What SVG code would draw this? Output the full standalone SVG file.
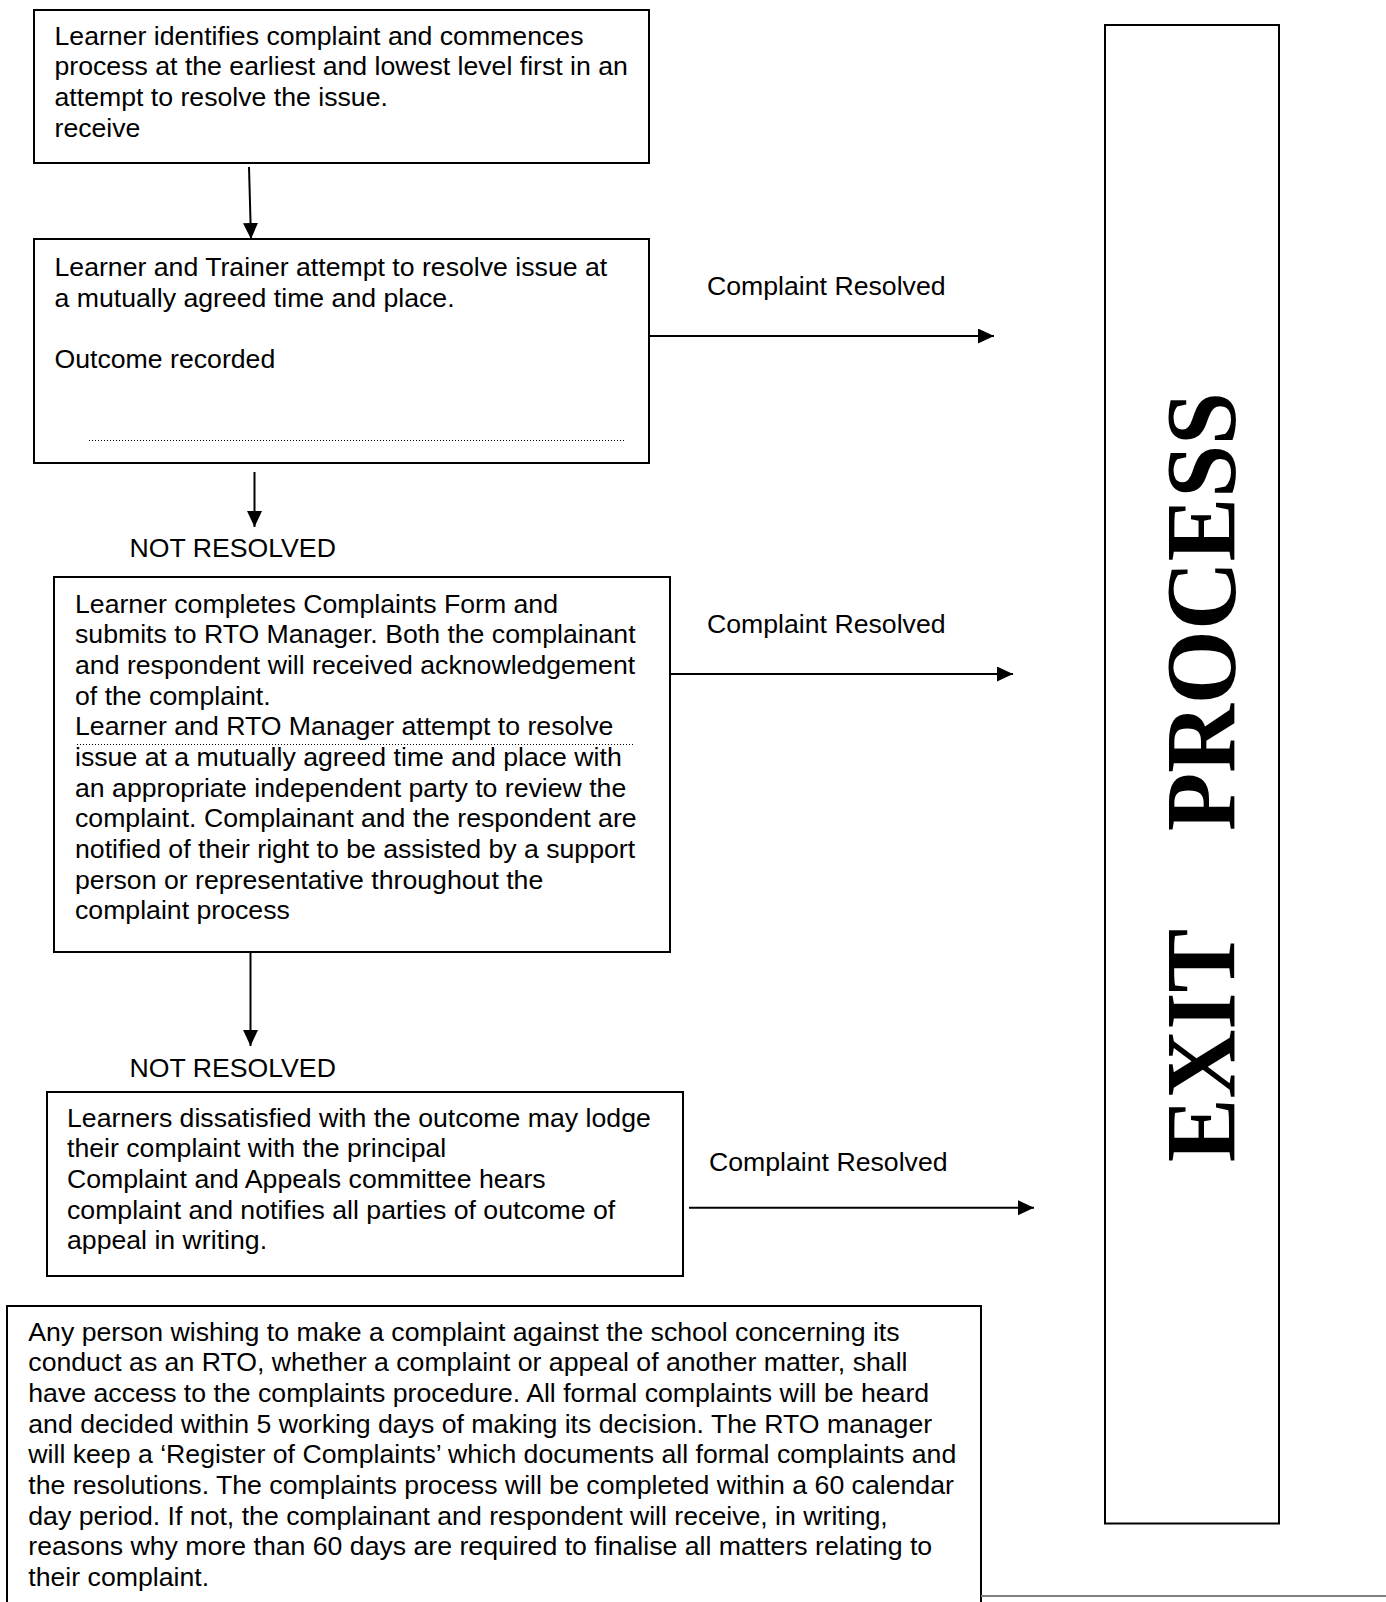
<svg xmlns="http://www.w3.org/2000/svg" width="1386" height="1602" viewBox="0 0 1386 1602">
<defs>
<style>
.box{fill:#fff;stroke:#000;stroke-width:2}
.t{font-family:"Liberation Sans",Arial,sans-serif;font-size:26.67px;fill:#000}
.c{stroke:#000;stroke-width:2;fill:none}
.dot{stroke:#000;stroke-width:1;stroke-dasharray:1 2;fill:none}
.exit{font-family:"Liberation Serif","Times New Roman",serif;font-weight:bold;font-size:99px;fill:#000}
</style>
<marker id="ah" markerUnits="userSpaceOnUse" markerWidth="16" markerHeight="16" refX="16" refY="7.5" orient="auto">
<path d="M0,0 L16,7.5 L0,15 z" fill="#000"/>
</marker>
</defs>
<rect width="1386" height="1602" fill="#fff"/>

<g id="n1">
<rect class="box" x="34" y="10" width="615" height="153"/>
<text class="t" x="54.5" y="44.5">Learner identifies complaint and commences</text>
<text class="t" x="54.5" y="75.2">process at the earliest and lowest level first in an</text>
<text class="t" x="54.5" y="105.9">attempt to resolve the issue.</text>
<text class="t" x="54.5" y="136.6">receive</text>
</g>

<g id="n2">
<rect class="box" x="34" y="239" width="615" height="224"/>
<text class="t" x="54.5" y="276">Learner and Trainer attempt to resolve issue at</text>
<text class="t" x="54.5" y="306.7">a mutually agreed time and place.</text>
<text class="t" x="54.5" y="368">Outcome recorded</text>
<line class="dot" x1="89" y1="440.5" x2="625" y2="440.5"/>
</g>

<g id="n3">
<rect class="box" x="54" y="577" width="616" height="375"/>
<text class="t" x="75" y="612.7">Learner completes Complaints Form and</text>
<text class="t" x="75" y="643.3">submits to RTO Manager. Both the complainant</text>
<text class="t" x="75" y="674">and respondent will received acknowledgement</text>
<text class="t" x="75" y="704.7">of the complaint.</text>
<text class="t" x="75" y="735.3">Learner and RTO Manager attempt to resolve</text>
<text class="t" x="75" y="766">issue at a mutually agreed time and place with</text>
<text class="t" x="75" y="796.7">an appropriate independent party to review the</text>
<text class="t" x="75" y="827.3">complaint. Complainant and the respondent are</text>
<text class="t" x="75" y="858">notified of their right to be assisted by a support</text>
<text class="t" x="75" y="888.7">person or representative throughout the</text>
<text class="t" x="75" y="919.3">complaint process</text>
<line class="dot" x1="77" y1="744.5" x2="635" y2="744.5"/>
</g>

<g id="n4">
<rect class="box" x="47" y="1092" width="636" height="184"/>
<text class="t" x="67" y="1126.7">Learners dissatisfied with the outcome may lodge</text>
<text class="t" x="67" y="1157.3">their complaint with the principal</text>
<text class="t" x="67" y="1188">Complaint and Appeals committee hears</text>
<text class="t" x="67" y="1218.7">complaint and notifies all parties of outcome of</text>
<text class="t" x="67" y="1249.3">appeal in writing.</text>
</g>

<g id="n5">
<rect class="box" x="7" y="1306" width="974" height="320"/>
<text class="t" x="28.3" y="1340.7">Any person wishing to make a complaint against the school concerning its</text>
<text class="t" x="28.3" y="1371.3">conduct as an RTO, whether a complaint or appeal of another matter, shall</text>
<text class="t" x="28.3" y="1402">have access to the complaints procedure. All formal complaints will be heard</text>
<text class="t" x="28.3" y="1432.7">and decided within 5 working days of making its decision. The RTO manager</text>
<text class="t" x="28.3" y="1463.3">will keep a ‘Register of Complaints’ which documents all formal complaints and</text>
<text class="t" x="28.3" y="1494">the resolutions. The complaints process will be completed within a 60 calendar</text>
<text class="t" x="28.3" y="1524.7">day period. If not, the complainant and respondent will receive, in writing,</text>
<text class="t" x="28.3" y="1555.3">reasons why more than 60 days are required to finalise all matters relating to</text>
<text class="t" x="28.3" y="1586">their complaint.</text>
</g>

<g id="exit">
<rect class="box" x="1105" y="25" width="174" height="1498.5"/>
<text class="exit" transform="rotate(-90)" x="-1162" y="1233.5" textLength="233" lengthAdjust="spacingAndGlyphs">EXIT</text>
<text class="exit" transform="rotate(-90)" x="-831" y="1233.5" textLength="439" lengthAdjust="spacingAndGlyphs">PROCESS</text>
</g>

<line x1="981" y1="1596" x2="1386" y2="1596" stroke="#808080" stroke-width="2"/>

<g id="connectors">
<line class="c" x1="249" y1="167" x2="251" y2="239" marker-end="url(#ah)"/>
<line class="c" x1="649" y1="336" x2="994" y2="336" marker-end="url(#ah)"/>
<line class="c" x1="254.5" y1="472" x2="254.5" y2="527" marker-end="url(#ah)"/>
<line class="c" x1="670" y1="674" x2="1013" y2="674" marker-end="url(#ah)"/>
<line class="c" x1="250.5" y1="952" x2="250.5" y2="1046" marker-end="url(#ah)"/>
<line class="c" x1="689" y1="1207.7" x2="1034" y2="1207.7" marker-end="url(#ah)"/>
<text class="t" x="707" y="295">Complaint Resolved</text>
<text class="t" x="129.5" y="556.7">NOT RESOLVED</text>
<text class="t" x="707" y="632.7">Complaint Resolved</text>
<text class="t" x="129.5" y="1076.7">NOT RESOLVED</text>
<text class="t" x="709" y="1170.7">Complaint Resolved</text>
</g>
</svg>
